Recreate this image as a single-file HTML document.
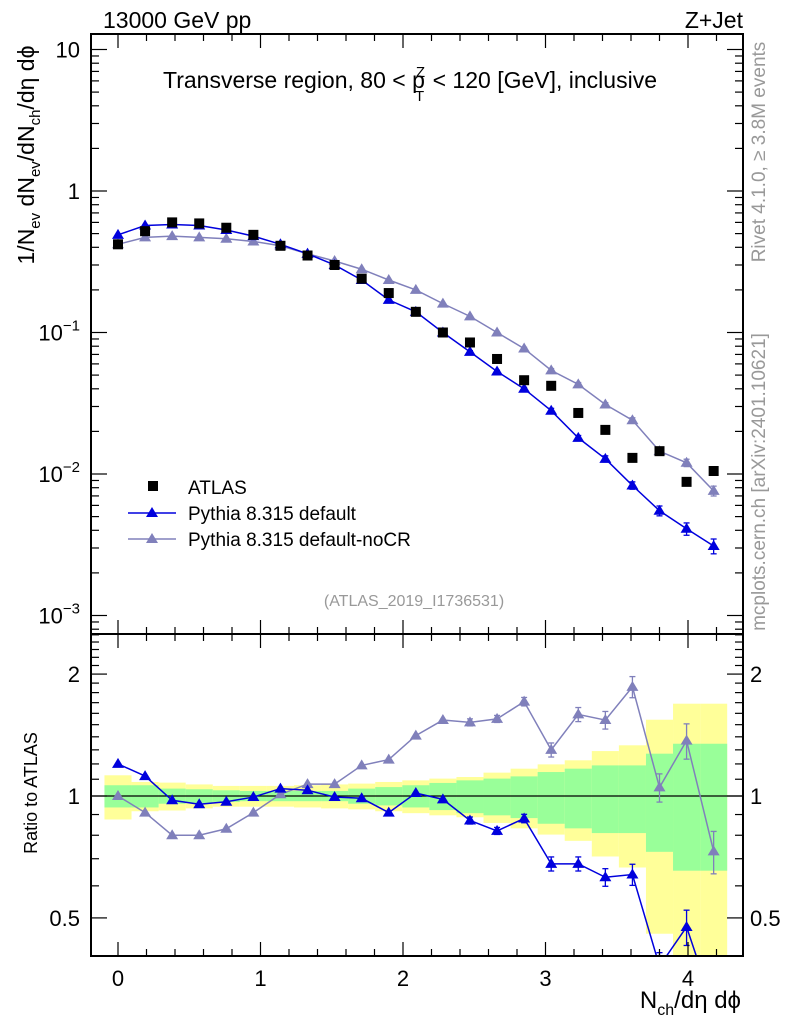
<!DOCTYPE html>
<html><head><meta charset="utf-8">
<style>
html,body{margin:0;padding:0;background:#fff;}
svg{display:block;font-family:"Liberation Sans",sans-serif;}
</style></head>
<body>
<svg id="c" width="786" height="1024" viewBox="0 0 786 1024" xmlns="http://www.w3.org/2000/svg">
<defs>
<clipPath id="mainClip"><rect x="91" y="34" width="652" height="600"/></clipPath>
<clipPath id="ratioClip"><rect x="91" y="634" width="652" height="322"/></clipPath>
</defs>
<g id="bands" clip-path="url(#ratioClip)"></g>
<g id="marks"></g>
<g id="axes"></g>
<text x="103" y="28" font-size="23">13000 GeV pp</text>
<text x="743" y="28" font-size="23" text-anchor="end">Z+Jet</text>
<text x="410" y="88" font-size="23" text-anchor="middle">Transverse region, 80 &lt; p<tspan font-size="15" dx="-9" dy="-11">Z</tspan><tspan font-size="15" dx="-10" dy="24">T</tspan><tspan dy="-13" dx="2"> &lt; 120 [GeV], inclusive</tspan></text>
<text transform="translate(34,155) rotate(-90)" font-size="23" text-anchor="middle">1/N<tspan font-size="15" dy="6">ev</tspan><tspan dy="-6"> dN</tspan><tspan font-size="15" dy="6">ev</tspan><tspan dy="-6">/dN</tspan><tspan font-size="15" dy="6">ch</tspan><tspan dy="-6">/dη dϕ</tspan></text>
<text transform="translate(37,793) rotate(-90)" font-size="18" text-anchor="middle">Ratio to ATLAS</text>
<text x="741" y="1008" font-size="24" text-anchor="end">N<tspan font-size="16" dy="7">ch</tspan><tspan dy="-7">/dη dϕ</tspan></text>
<text transform="translate(765,152) rotate(-90)" font-size="19" fill="#999" text-anchor="middle">Rivet 4.1.0, ≥ 3.8M events</text>
<text transform="translate(765,482) rotate(-90)" font-size="19" fill="#999" text-anchor="middle">mcplots.cern.ch [arXiv:2401.10621]</text>
<text x="414" y="606" font-size="16" fill="#999" text-anchor="middle">(ATLAS_2019_I1736531)</text>
<g>
<rect x="148" y="481" width="10" height="10" fill="#000"/>
<text x="188" y="494" font-size="19">ATLAS</text>
<line x1="128" y1="513" x2="176" y2="513" stroke="#0000dd" stroke-width="1.5"/>
<polygon points="152,507 158,517 146,517" fill="#0000dd"/>
<text x="188" y="520" font-size="19">Pythia 8.315 default</text>
<line x1="128" y1="539" x2="176" y2="539" stroke="#8080bb" stroke-width="1.5"/>
<polygon points="152,533 158,543 146,543" fill="#8080bb"/>
<text x="188" y="546" font-size="19">Pythia 8.315 default-noCR</text>
</g>
</svg>
<script>
const xStep = 0.19;
const nBins = 23;
const atlas = [0.42,0.52,0.60,0.59,0.55,0.49,0.41,0.35,0.30,0.24,0.19,0.14,0.10,0.085,0.065,0.046,0.042,0.027,0.0205,0.013,0.0145,0.0088,0.0105];
const pyDefault = [0.49,0.57,0.58,0.57,0.53,0.48,0.42,0.36,0.30,0.235,0.17,0.14,0.10,0.073,0.053,0.040,0.028,0.018,0.0128,0.0083,0.0055,0.0041,0.0031];
const pyNoCR = [0.42,0.47,0.48,0.47,0.46,0.44,0.41,0.36,0.32,0.28,0.235,0.20,0.16,0.13,0.10,0.077,0.054,0.043,0.031,0.024,0.0145,0.012,0.0076];
const ratioDefault = [1.20,1.12,0.976,0.954,0.968,0.994,1.043,1.033,0.994,0.987,0.91,1.017,0.981,0.87,0.82,0.88,0.68,0.68,0.63,0.64,0.38,0.475,0.30];
const ratioNoCR = [1.0,0.91,0.80,0.80,0.83,0.91,1.01,1.07,1.07,1.19,1.23,1.41,1.54,1.52,1.55,1.71,1.30,1.59,1.54,1.86,1.05,1.37,0.73];
const statErr = [0.063,0.063,0.043,0.039,0.033,0.029,0.029,0.029,0.029,0.043,0.052,0.063,0.077,0.093,0.104,0.118,0.146,0.168,0.19,0.19,0.272,0.346,0.346];
const totErr = [0.125,0.083,0.079,0.068,0.059,0.059,0.059,0.063,0.068,0.073,0.083,0.093,0.104,0.114,0.142,0.168,0.197,0.225,0.291,0.334,0.543,0.69,0.69];
const defErr = [0,0,0,0,0,0,0,0,0,0,0,0,0,0.01,0.01,0.012,0.02,0.02,0.025,0.03,0.04,0.05,0.06];
const nocrErr = [0,0,0,0,0,0,0,0,0,0,0,0,0,0,0,0.01,0.015,0.015,0.015,0.02,0.025,0.03,0.04];
const xTicks = [0,1,2,3,4];
const mainTickLabels = ["10","1","10^-1","10^-2","10^-3"];
const ratioTickLabels = ["0.5","1","2"];

const L=91,R=743,T=34,M=634,B=956;
const NS="http://www.w3.org/2000/svg";
const X=v=>118+v*142.5;
const YM=v=>191-Math.log10(v)*141.5;
const YR=v=>796-Math.log10(v)*405;
function mk(tag,attrs,parent){const e=document.createElementNS(NS,tag);for(const k in attrs)e.setAttribute(k,attrs[k]);parent.appendChild(e);return e;}
const bands=document.getElementById('bands'),marks=document.getElementById('marks'),axes=document.getElementById('axes');

for(let i=0;i<nBins;i++){
  const x0=X(i*xStep-xStep/2),x1=X(i*xStep+xStep/2);
  const y=mk('rect',{x:x0,y:YR(1+totErr[i]),width:x1-x0,height:YR(Math.max(1-totErr[i],0.01))-YR(1+totErr[i]),fill:'#ffff99'},bands);
  
  
}
for(let i=0;i<nBins;i++){
  const x0=X(i*xStep-xStep/2),x1=X(i*xStep+xStep/2);
  const g=mk('rect',{x:x0,y:YR(1+statErr[i]),width:x1-x0,height:YR(1-statErr[i])-YR(1+statErr[i]),fill:'#99ff99'},bands);
  
  
}
const one=mk('line',{x1:L,x2:R,y1:YR(1),y2:YR(1),stroke:'#000','stroke-width':1.2},bands);



function tri(parent,cx,cy,col,name){
  const p=mk('polygon',{points:`${cx},${cy-6} ${cx+6},${cy+4} ${cx-6},${cy+4}`,fill:col},parent);
  
  
}
function series(vals,Y,col,clip,name,errs,f){
  const g=mk('g',{'clip-path':`url(#${clip})`},marks);
  
  
  const pts=vals.map((v,i)=>X(i*xStep)+','+Y(v)).join(' ');
  const l=mk('polyline',{points:pts,fill:'none',stroke:col,'stroke-width':1.5},g);
  
  
  vals.forEach((v,i)=>{
    const cx=X(i*xStep),cy=Y(v);
    if(errs&&errs[i]>0){
      const e=errs[i]*f;
      const ya=Y(v*(1+e)),yb=Y(v*(1-e));
      mk('line',{x1:cx,x2:cx,y1:ya,y2:yb,stroke:col,'stroke-width':1.3},g);
      mk('line',{x1:cx-3,x2:cx+3,y1:ya,y2:ya,stroke:col,'stroke-width':1.3},g);
      mk('line',{x1:cx-3,x2:cx+3,y1:yb,y2:yb,stroke:col,'stroke-width':1.3},g);
    }
    tri(g,cx,cy,col,name+'-point');
  });
}
series(pyNoCR,YM,'#8080bb','mainClip','main-nocr-series',nocrErr,2);
series(pyDefault,YM,'#0000dd','mainClip','main-default-series',defErr,2);
const ga=mk('g',{'clip-path':'url(#mainClip)'},marks);


atlas.forEach((v,i)=>{
  const r=mk('rect',{x:X(i*xStep)-5,y:YM(v)-5,width:10,height:10,fill:'#000'},ga);
  
  
});
series(ratioNoCR,YR,'#8080bb','ratioClip','ratio-nocr-series',nocrErr.map((e,i)=>Math.max(e,defErr[i])),2);
series(ratioDefault,YR,'#0000dd','ratioClip','ratio-default-series',defErr,2);

[[T,M,'main-panel-frame'],[M,B,'ratio-panel-frame']].forEach(([a,b,n])=>{
  const f=mk('rect',{x:L,y:a,width:R-L,height:b-a,fill:'none',stroke:'#000','stroke-width':2},axes);
  
  
});
function tk(x1,y1,x2,y2){mk('line',{x1,y1,x2,y2,stroke:'#000','stroke-width':1.2},axes);}
for(let k=-1;k<=22;k++){
  const v=k*0.2, x=X(v); if(x<L||x>R)continue;
  const maj=Math.abs(v-Math.round(v))<1e-6, len=maj?14:7;
  [T,M].forEach(y=>tk(x,y,x,y+len));
  [M,B].forEach(y=>tk(x,y,x,y-len));
}
xTicks.forEach(v=>{
  const t=mk('text',{x:X(v),y:B+30,'font-size':22,'text-anchor':'middle'},axes);
  t.textContent=String(v);
  
  
});
for(let d=-4;d<=1;d++){
  for(let m=1;m<=9;m++){
    const v=m*Math.pow(10,d), y=YM(v); if(y<T||y>M)continue;
    const len=m===1?16:8;
    tk(L,y,L+len,y); tk(R,y,R-len,y);
  }
}
[1,0,-1,-2,-3].forEach((d,i)=>{
  const y=YM(Math.pow(10,d));
  const t=mk('text',{x:80,y:y+8,'font-size':22,'text-anchor':'end'},axes);
  const s=mainTickLabels[i];
  if(s.indexOf('^')>=0){const p=s.split('^');t.textContent=p[0];const ts=mk('tspan',{'font-size':15,dy:-10},t);ts.textContent=p[1].replace('-','−');}
  else t.textContent=s;
  
  
});
for(let v=0.4;v<=2.55;v+=0.1){
  const vv=Math.round(v*10)/10, y=YR(vv); if(y<M||y>B)continue;
  const maj=(vv===0.5||vv===1||vv===2), len=maj?16:8;
  tk(L,y,L+len,y); tk(R,y,R-len,y);
}
[0.5,1,2].forEach((v,i)=>{
  const y=YR(v);
  const t=mk('text',{x:80,y:y+8,'font-size':22,'text-anchor':'end'},axes);
  t.textContent=ratioTickLabels[i];
  
  
  const t2=mk('text',{x:750,y:y+8,'font-size':22},axes);
  t2.textContent=ratioTickLabels[i];
  
  
});
</script>
</body></html>
